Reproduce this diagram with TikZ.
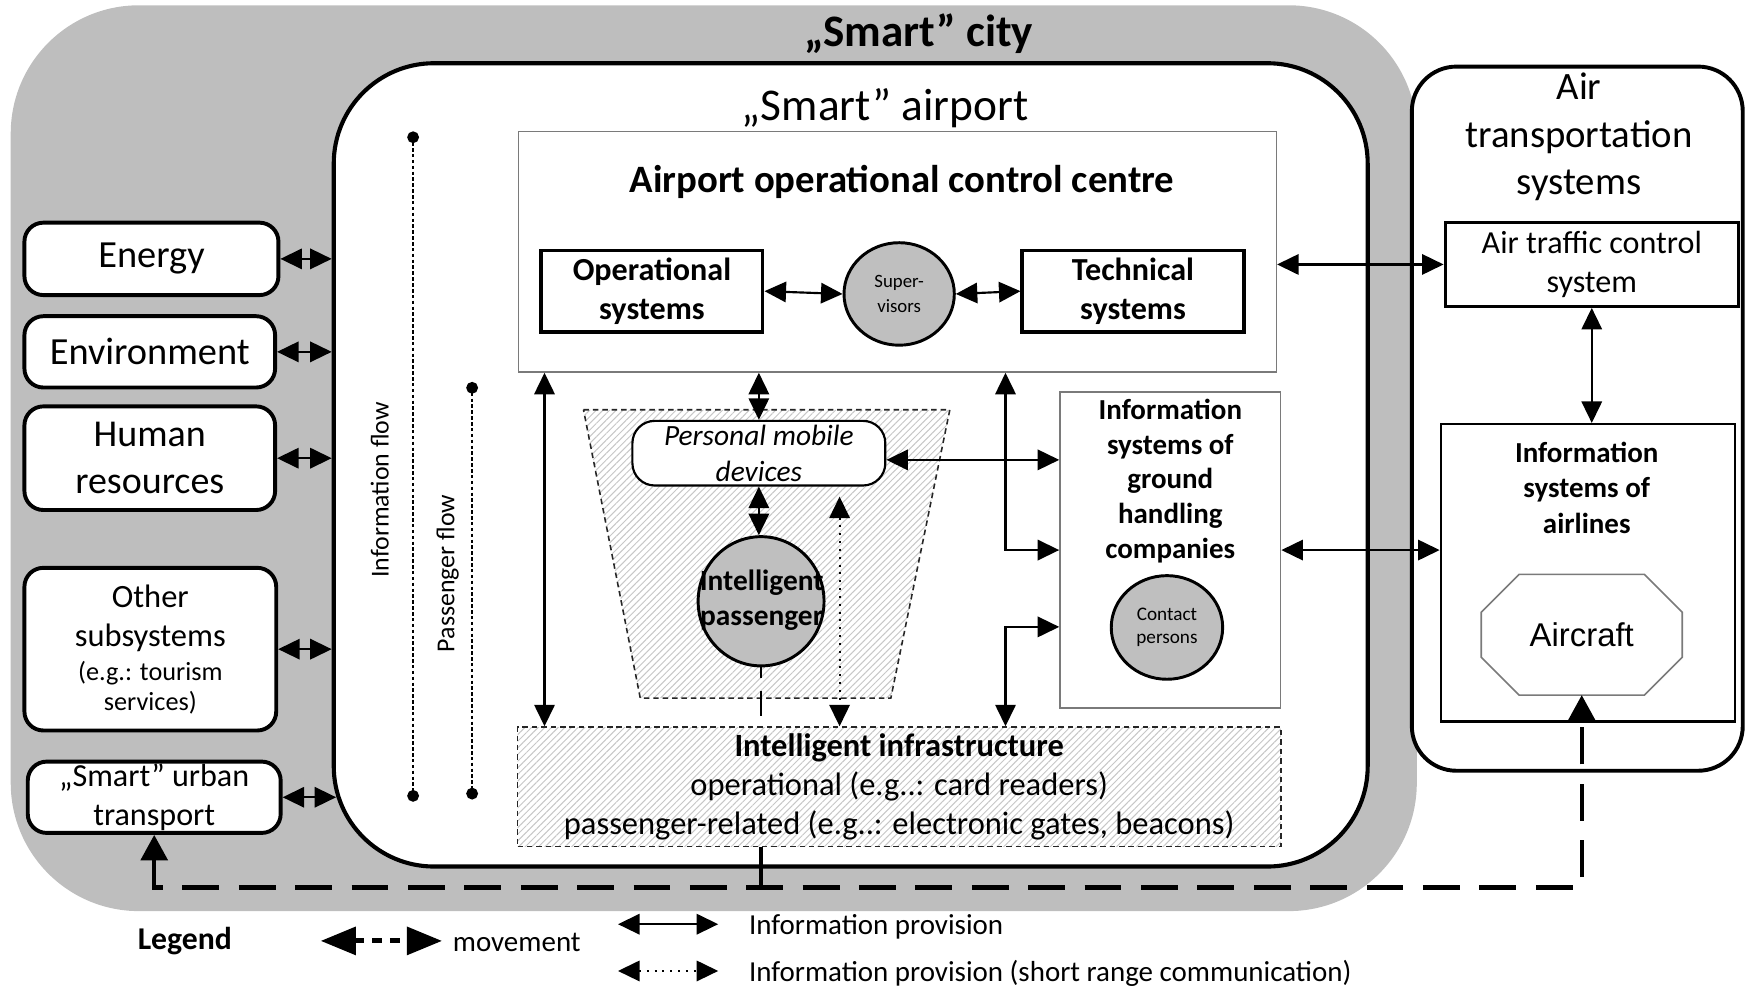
\documentclass[tikz,border=0pt]{standalone}
\usepackage{fontspec}
\setmainfont{Carlito}
\newfontfamily\arialfont{Liberation Sans}
\usetikzlibrary{arrows.meta,shapes.geometric,calc,patterns.meta}
\newcommand\myfs[2]{\fontsize{#1}{#2}\selectfont}
\definecolor{cityg}{HTML}{BEBEBE}
\definecolor{persg}{HTML}{BFBFBF}
\definecolor{thingray}{HTML}{7A7A7A}
\begin{document}
\begin{tikzpicture}[x=0.01cm,y=-0.01cm,
  lbox/.style={draw, line width=1pt, fill=white, rounded corners=0.17cm, inner sep=0pt, align=center},
  bbox/.style={draw, line width=0.85pt, fill=white, inner sep=0pt, align=center},
  tbox/.style={draw=thingray, line width=0.4pt, fill=white, inner sep=0pt},
  hatchbox/.style={draw=black!85, line width=0.4pt, dash pattern=on 1.4pt off 1pt, preaction={fill=white}, pattern={Lines[angle=45,distance=1.2pt,line width=0.25pt]}, pattern color=black!22},
  person/.style={ellipse, draw, line width=0.75pt, fill=persg, inner sep=0pt, align=center},
  txt/.style={align=center, inner sep=0pt},
  info/.style={line width=0.55pt, {Triangle[length=5.5pt,width=5.2pt]}-{Triangle[length=5.5pt,width=5.2pt]}},
  sinfo/.style={info, dash pattern=on 0.5pt off 1.5pt},
  movearr/.style={line width=1.05pt, dash pattern=on 9.4pt off 5pt, {Triangle[length=6.5pt,width=6.8pt]}-{Triangle[length=6.5pt,width=6.8pt]}},
  flowline/.style={line width=0.5pt, dash pattern=on 0.9pt off 0.6pt, {Circle[length=3pt]}-{Circle[length=3pt]}}
]
\useasboundingbox (0,0) rectangle (1568,886);

% city
\node[fill=cityg, rounded corners=1.15cm, minimum width=12.62cm, minimum height=8.13cm, inner sep=0pt] (city) at (641,411.5) {};
\node[txt, font=\bfseries\myfs{11.5}{14}] (citytitle) at (825,30) {„Smart” city};

% air transportation systems
\node[draw, line width=1pt, fill=white, rounded corners=0.4cm, minimum width=2.97cm, minimum height=6.32cm, inner sep=0pt] (ats) at (1416.5,376) {};
\node[txt, font=\myfs{9.9}{12.1}] (atstitle) at (1418,123) {Air\\transportation\\systems};

% airport
\node[draw, line width=1.05pt, fill=white, rounded corners=0.9cm, minimum width=9.28cm, minimum height=7.21cm, inner sep=0pt] (airport) at (764,417.5) {};
\node[txt, font=\myfs{11.6}{14}] (airporttitle) at (795,97) {„Smart” airport};

% left boxes
\node[lbox, font=\myfs{9.8}{12}, minimum width=2.28cm, minimum height=0.65cm] (energy) at (136,232.5) {Energy};
\node[lbox, font=\myfs{9.8}{12}, minimum width=2.25cm, minimum height=0.64cm] (env) at (134.5,316) {Environment};
\node[lbox, font=\myfs{9.7}{12}, minimum width=2.25cm, minimum height=0.93cm] (human) at (134.5,411.5) {Human\\resources};
\node[lbox, minimum width=2.26cm, minimum height=1.46cm] (other) at (135,583) {};
\node[txt, font=\myfs{8.3}{10}] (othert) at (135,555.5) {Other\\subsystems};
\node[txt, font=\myfs{6.7}{7.7}] (othern) at (135,617.5) {(e.g.: tourism\\services)};
\node[lbox, font=\myfs{8.2}{10}, minimum width=2.27cm, minimum height=0.64cm] (urban) at (138.5,716) {„Smart” urban\\transport};

\draw[info] (energy.east) -- (energy.east -| airport.west);
\draw[info] (env.east) -- (env.east -| airport.west);
\draw[info] (human.east) -- (human.east -| airport.west);
\draw[info] (other.east) -- (other.east -| airport.west);
\draw[info] (urban.east) -- ($(urban.east -| airport.west)+(4,0)$);

% flows
\coordinate (if1) at (371,118);
\coordinate (if2) at (371,720);
\coordinate (pf1) at (424,343);
\coordinate (pf2) at (424,718);
\draw[flowline] (if1) -- (if2);
\draw[flowline] (pf1) -- (pf2);
\node[rotate=90, font=\myfs{6.6}{8}, inner sep=0pt] (iflab) at (341,440) {Information flow};
\node[rotate=90, font=\myfs{6.6}{8}, inner sep=0pt] (pflab) at (402,515) {Passenger flow};

% AOCC
\node[tbox, minimum width=6.8cm, minimum height=2.16cm] (aocc) at (806,226) {};
\node[txt, font=\bfseries\myfs{9.9}{12}] (aocctitle) at (810,163) {Airport operational control centre};
\node[bbox, font=\bfseries\myfs{8.2}{10}, minimum width=1.99cm, minimum height=0.73cm] (opsys) at (585.5,261.5) {Operational\\systems};
\node[person, font=\myfs{4.8}{6.3}, minimum width=0.99cm, minimum height=0.92cm] (sup) at (807.5,264) {Super-\\visors};
\node[bbox, font=\bfseries\myfs{8.2}{10}, minimum width=1.99cm, minimum height=0.73cm] (techsys) at (1017.5,261.5) {Technical\\systems};
\draw[info] (opsys.east) -- (sup.west);
\draw[info] (sup.east) -- (techsys.west);

% ATC and airlines
\node[bbox, font=\myfs{8.2}{10}, minimum width=2.63cm, minimum height=0.75cm] (atc) at (1429.5,237.5) {Air traffic control\\system};
\draw[info] (aocc.east |- atc.west) -- (atc.west);
\node[draw, line width=0.6pt, fill=white, minimum width=2.64cm, minimum height=2.67cm, inner sep=0pt] (airlines) at (1426,514.5) {};
\node[txt, font=\bfseries\myfs{7.4}{9}] (airlinest) at (1425,438) {Information\\systems of\\airlines};
\draw[info] (atc.south) -- (atc.south |- airlines.north);
\node[txt, font=\arialfont\myfs{8.4}{10}, minimum width=1.79cm, minimum height=1.07cm] (aircraft) at (1420.5,570) {Aircraft};
\draw[draw=thingray, line width=0.4pt] ($(aircraft.north west)+(34,0)$) -- ($(aircraft.north east)+(-34,0)$) -- ($(aircraft.north east)+(0,34)$) -- ($(aircraft.south east)+(0,-34)$) -- ($(aircraft.south east)+(-34,0)$) -- ($(aircraft.south west)+(34,0)$) -- ($(aircraft.south west)+(0,-34)$) -- ($(aircraft.north west)+(0,34)$) -- cycle;

% ground handling
\node[tbox, minimum width=1.98cm, minimum height=2.84cm] (gh) at (1051,494) {};
\node[txt, font=\bfseries\myfs{7.4}{8.9}] (ght) at (1051,432) {Information\\systems of\\ground\\handling\\companies};
\node[person, font=\myfs{4.9}{6}, minimum width=1cm, minimum height=0.93cm] (contact) at (1048,563.5) {Contact\\persons};
\draw[info] (gh.east) -- (gh.east -| airlines.west);

% trapezoid
\coordinate (tz1) at (524,368);
\coordinate (tz2) at (853,368);
\coordinate (tz3) at (800,627);
\coordinate (tz4) at (575,627);
\draw[hatchbox] (tz1) -- (tz2) -- (tz3) -- (tz4) -- cycle;

% infrastructure
\node[hatchbox, align=center, font=\myfs{8.3}{10}, minimum width=6.85cm, minimum height=1.07cm, inner sep=0pt] (infra) at (807.5,706.5) {\textbf{Intelligent infrastructure}\\operational (e.g..: card readers)\\passenger-related (e.g..: electronic gates, beacons)};

% personal devices and passenger
\node[draw, line width=0.55pt, fill=white, rounded corners=0.2cm, align=center, font=\itshape\myfs{7.5}{9.1}, minimum width=2.27cm, minimum height=0.58cm, inner sep=0pt] (pmd) at (681.5,407) {Personal mobile\\devices};
\node[person, minimum width=1.13cm, minimum height=1.16cm] (ipass) at (683.5,540) {};
\node[txt, font=\bfseries\myfs{7.5}{9.1}] (ipasst) at (684,539) {Intelligent\\passenger};

\draw[info] (pmd.north) -- (pmd.north |- aocc.south);
\draw[info] (pmd.south) -- (pmd.south |- ipass.north);
\coordinate (dtop) at ($(pmd.south)+(72.5,9)$);
\draw[sinfo] (dtop) -- (dtop |- infra.north);
\coordinate (pmdr) at ($(pmd.east)+(0,6)$);
\draw[info] (pmdr) -- (pmdr -| gh.west);
\coordinate (elbx) at (903,0);
\draw[info] (elbx |- aocc.south) |- (gh.west);
\coordinate (ghlo) at ($(gh.west)+(0,69)$);
\draw[info] (elbx |- infra.north) |- (ghlo);
\coordinate (lx) at (489,0);
\draw[info] (lx |- aocc.south) -- (lx |- infra.north);

% movement
\coordinate (mvy) at (0,797);
\draw[movearr] (urban.south) -- (urban.south |- mvy) -- (aircraft.south |- mvy) -- (aircraft.south);
\draw[line width=0.6pt, dash pattern=on 2.6pt off 3.4pt on 6.3pt off 3pt] (ipass.south) -- (ipass.south |- infra.north);
\draw[line width=1.05pt] (ipass.south |- infra.south) -- (ipass.south |- mvy);

% legend
\node[font=\bfseries\myfs{8.1}{10}, inner sep=0pt] (legend) at (166,845) {Legend};
\coordinate (lg1) at (288,845);
\coordinate (lg2) at (397,845);
\draw[line width=1.3pt, dash pattern=on 2.5pt off 2pt, {Triangle[length=9pt,width=7pt]}-{Triangle[length=9pt,width=7pt]}] (lg1) -- (lg2);
\node[anchor=west, font=\myfs{7.4}{9}, inner sep=0pt] (movetxt) at (406,846) {movement};
\coordinate (lg3) at (555,830);
\coordinate (lg4) at (645,830);
\draw[info] (lg3) -- (lg4);
\node[anchor=west, font=\myfs{7.4}{9}, inner sep=0pt] (infotxt) at (672,832) {Information provision};
\coordinate (lg5) at (555,872);
\coordinate (lg6) at (645,872);
\draw[sinfo] (lg5) -- (lg6);
\node[anchor=west, font=\myfs{7.4}{9}, inner sep=0pt] (sinfotxt) at (672,874) {Information provision (short range communication)};
\end{tikzpicture}
\end{document}
